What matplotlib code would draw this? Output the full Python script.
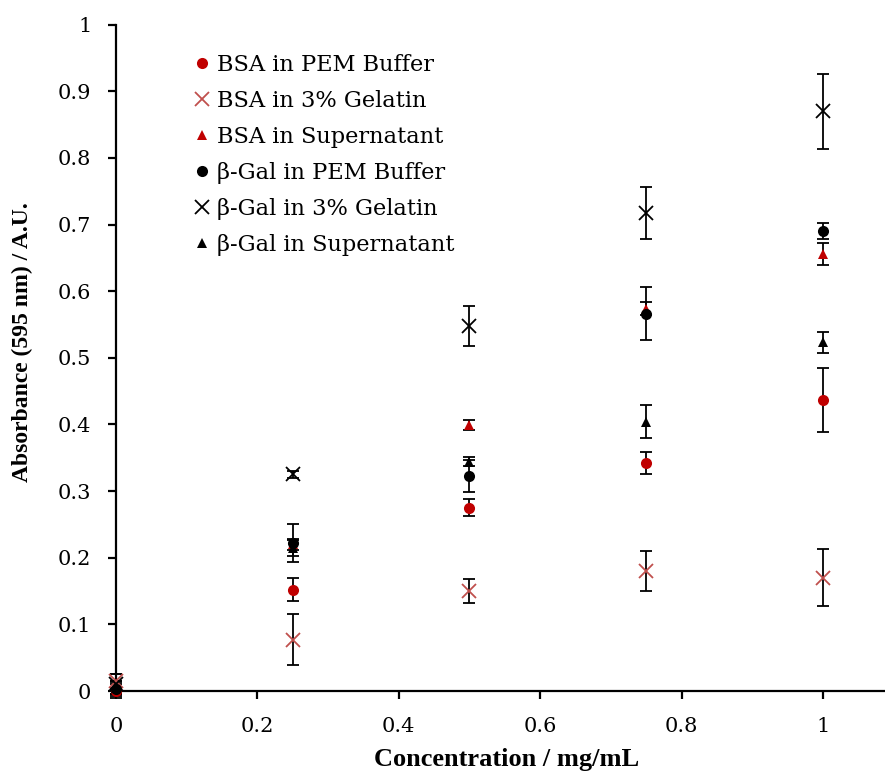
import matplotlib
matplotlib.use("Agg")
import matplotlib.pyplot as plt

plt.rcParams['font.family'] = ['DejaVu Serif']

conc = [0, 0.25, 0.5, 0.75, 1.0]

bsa_pem = [0.000, 0.152, 0.275, 0.342, 0.437]
bsa_pem_err = [0.010, 0.017, 0.013, 0.017, 0.048]

bsa_gel = [0.015, 0.077, 0.150, 0.180, 0.170]
bsa_gel_err = [0.010, 0.038, 0.018, 0.030, 0.043]

bsa_sup = [0.005, 0.220, 0.399, 0.574, 0.656]
bsa_sup_err = [0.010, 0.008, 0.007, 0.010, 0.016]

gal_pem = [0.003, 0.222, 0.323, 0.566, 0.691]
gal_pem_err = [0.010, 0.029, 0.024, 0.040, 0.012]

gal_gel = [0.010, 0.325, 0.548, 0.717, 0.870]
gal_gel_err = [0.015, 0.005, 0.030, 0.039, 0.056]

gal_sup = [0.005, 0.215, 0.344, 0.404, 0.523]
gal_sup_err = [0.010, 0.012, 0.007, 0.025, 0.016]

labels = ["BSA in PEM Buffer", "BSA in 3% Gelatin", "BSA in Supernatant",
          "β-Gal in PEM Buffer", "β-Gal in 3% Gelatin", "β-Gal in Supernatant"]

series = [
    (bsa_pem, bsa_pem_err, 'o', '#C00000', 8),
    (bsa_gel, bsa_gel_err, 'x', '#C0504D', 10),
    (bsa_sup, bsa_sup_err, '^', '#C00000', 7.5),
    (gal_pem, gal_pem_err, 'o', '#000000', 8),
    (gal_gel, gal_gel_err, 'x', '#000000', 10),
    (gal_sup, gal_sup_err, '^', '#000000', 7.5),
]

fig = plt.figure(figsize=(8.85, 7.74), dpi=100)
ax = fig.add_axes([0.131, 0.1072, 0.869, 0.861])

handles = []
for (vals, errs, mk, col, ms), lab in zip(series, labels):
    ax.errorbar(conc, vals, yerr=errs, fmt='none', ecolor='black',
                elinewidth=1.3, capsize=4.5, capthick=1.3, zorder=2,
                clip_on=False)
    mew = 1.3 if mk == 'x' else 0
    h, = ax.plot(conc, vals, linestyle='none', marker=mk, color=col,
                 markersize=ms, markeredgewidth=mew, zorder=3, label=lab,
                 clip_on=False)
    handles.append(h)

ax.set_xlim(0, 1.0877)
ax.set_ylim(0, 1)
ax.set_xticks([0, 0.2, 0.4, 0.6, 0.8, 1.0])
ax.set_xticklabels(['0', '0.2', '0.4', '0.6', '0.8', '1'])
ax.set_yticks([i / 10 for i in range(11)])
ax.set_yticklabels(['0'] + ['0.%d' % i for i in range(1, 10)] + ['1'])

for side in ('top', 'right'):
    ax.spines[side].set_visible(False)
for side in ('left', 'bottom'):
    ax.spines[side].set_linewidth(1.6)
ax.tick_params(axis='both', direction='out', length=6, width=1.6,
               labelsize=15, colors='black')
ax.tick_params(axis='y', pad=11.7)
ax.tick_params(axis='x', pad=12.5)

ax.set_ylabel('Absorbance (595 nm) / A.U.', fontsize=17, fontweight='bold',
              family='Liberation Serif')
ax.yaxis.set_label_coords(-0.108, 0.5236)
ax.set_xlabel('Concentration / mg/mL', fontsize=19, fontweight='bold',
              family='Liberation Serif')
ax.xaxis.set_label_coords(0.508, -0.086)
ax.xaxis.label.set_va('top')

leg = ax.legend(handles=handles, loc='upper left',
                bbox_to_anchor=(0.1034, 0.9557),
                frameon=False, fontsize=16.2, handlelength=0.6,
                handletextpad=0.35, labelspacing=0.62, borderaxespad=0,
                borderpad=0)

fig.savefig('out.png', dpi=100)
